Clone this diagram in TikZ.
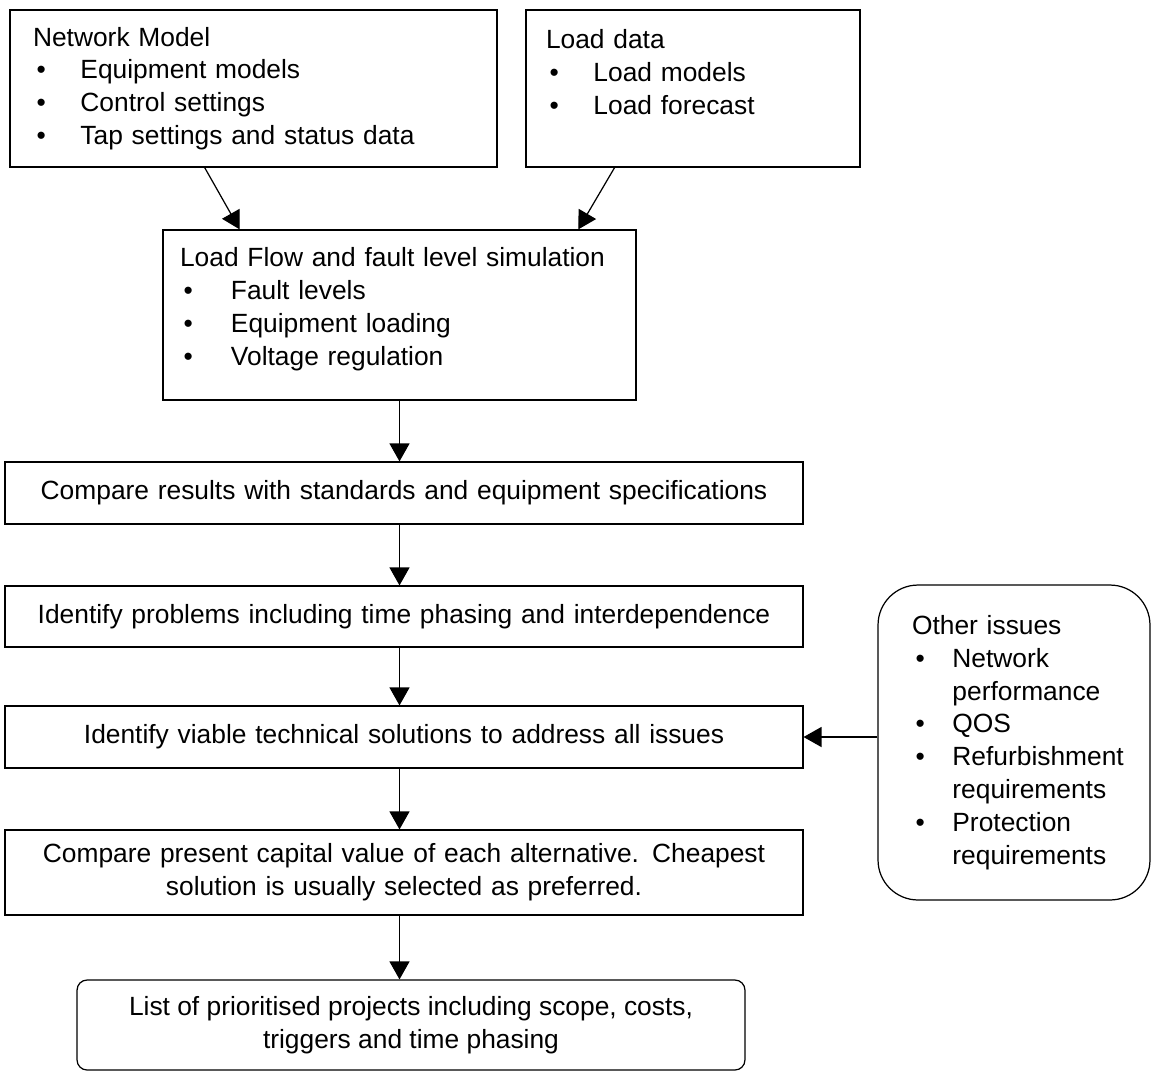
\documentclass[tikz,border=0pt]{standalone}
\usepackage{fontspec}
\setmainfont{Liberation Sans}
\usetikzlibrary{arrows.meta,calc,positioning}

\newcommand{\bitem}[2][25pt]{\hspace*{2pt}\makebox[#1][l]{\textbullet}#2}

\begin{document}
\begin{tikzpicture}[x=0.02cm,y=-0.02cm,>={Triangle[length=3.6mm,width=4mm]},
  font=\fontsize{15}{18.7}\selectfont]

  \tikzstyle{box}=[rectangle,draw=black,line width=0.7pt,inner sep=0pt]
  \tikzstyle{list box}=[box,align=left]
  \tikzstyle{step box}=[box,align=center,minimum width=15.96cm,text width=15.5cm]
  \tikzstyle{flow}=[->,line width=0.7pt]

  \useasboundingbox (0,0) rectangle (1152,1073);

  % inputs
  \node[list box,minimum width=9.74cm,minimum height=3.14cm,text width=8.82cm] (net) at (253.5,88.5)
    {Network Model\\ \bitem{Equipment models}\\ \bitem{Control settings}\\ \bitem{Tap settings and status data}};
  \node[list box,minimum width=6.68cm,minimum height=3.14cm,text width=5.88cm] (load) at (693,88.5)
    {Load data\\ \bitem{Load models}\\ \bitem{Load forecast}\\ \mbox{}};

  \node[list box,minimum width=9.46cm,minimum height=3.4cm,text width=8.78cm] (sim) at (399.5,315)
    {Load Flow and fault level simulation\\ \bitem[27pt]{Fault levels}\\ \bitem[27pt]{Equipment loading}\\ \bitem[27pt]{Voltage regulation}\\[-9pt] \mbox{}};

  % main steps
  \node[step box,minimum height=1.24cm] (cmp) at (404,493)
    {Compare results with standards and equipment specifications};
  \node[step box,minimum height=1.22cm] (prob) at (404,616.5)
    {Identify problems including time phasing and interdependence};
  \node[step box,minimum height=1.24cm] (sol) at (404,737)
    {Identify viable technical solutions to address all issues};
  \node[step box,minimum height=1.7cm] (pcv) at (404,872.5)
    {Compare present capital value of each alternative. Cheapest\\ solution is usually selected as preferred.};
  \node[box,rounded corners=0.2cm,align=center,minimum width=13.36cm,minimum height=1.8cm] (proj) at (411,1025)
    {List of prioritised projects including scope, costs,\\ triggers and time phasing};

  \node[list box,rounded corners=0.8cm,minimum width=5.44cm,minimum height=6.3cm,text width=4.08cm] (other) at (1014,742.5)
    {Other issues\\ \bitem[21pt]{Network}\\ \hspace*{23pt}performance\\ \bitem[21pt]{QOS}\\
     \bitem[21pt]{Refurbishment}\\ \hspace*{23pt}requirements\\ \bitem[21pt]{Protection}\\ \hspace*{23pt}requirements};

  % connectors
  \draw[flow] ($(net.south west)!0.4!(net.south east)$) -- ($(sim.north west)!0.163!(sim.north east)$);
  \draw[flow] ($(load.south west)!0.266!(load.south east)$) -- ($(sim.north west)!0.877!(sim.north east)$);
  \draw[flow] (sim.south) -- (sim.south |- cmp.north);
  \draw[flow] (sim.south |- cmp.south) -- (sim.south |- prob.north);
  \draw[flow] (sim.south |- prob.south) -- (sim.south |- sol.north);
  \draw[flow] (sim.south |- sol.south) -- (sim.south |- pcv.north);
  \draw[flow] (sim.south |- pcv.south) -- (sim.south |- proj.north);
  \draw[flow] (other.west |- sol.east) -- (sol.east);

\end{tikzpicture}
\end{document}
